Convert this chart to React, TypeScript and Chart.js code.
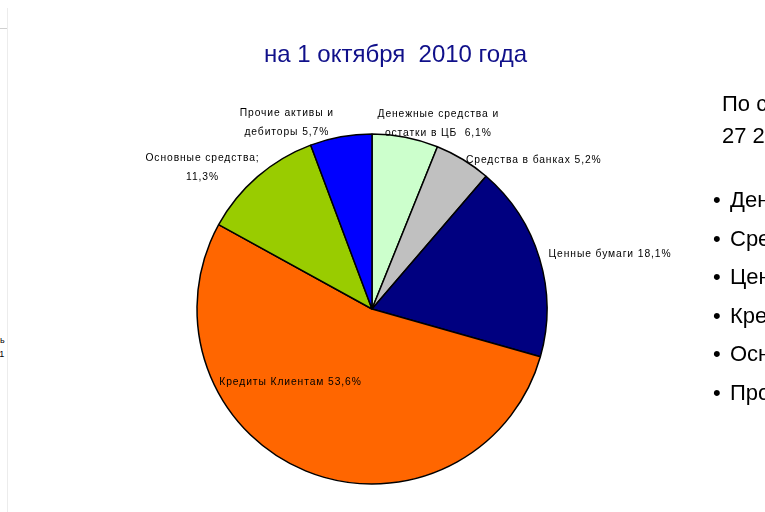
import React, { useEffect, useRef } from "react";
import { Chart, registerables } from "chart.js";

Chart.register(...registerables);

const categories = [
  "Денежные средства и остатки в ЦБ",
  "Средства в банках",
  "Ценные бумаги",
  "Кредиты Клиентам",
  "Основные средства",
  "Прочие активы и дебиторы",
];
const shares = [6.1, 5.2, 18.1, 53.6, 11.3, 5.7];
const labelLines = [
  ["Денежные средства и", "остатки в ЦБ  6,1%"],
  ["Средства в банках 5,2%"],
  ["Ценные бумаги 18,1%"],
  ["Кредиты Клиентам 53,6%"],
  ["Основные средства;", "11,3%"],
  ["Прочие активы и", "дебиторы 5,7%"],
];
const sliceColors = ["#CCFFCC", "#C0C0C0", "#000080", "#FF6600", "#99CC00", "#0000FF"];
const title = "на 1 октября  2010 года";
const sideHeader = ["По состоянию на", "27 2010 года"];
const sideBullets = [
  "Денежные средства",
  "Средства в банках",
  "Ценные бумаги",
  "Кредиты клиентам",
  "Основные средства",
  "Прочие активы",
];

// label layout: offset from the slice's outer mid-point, and alignment
const labelLayout = [
  { dx: 33, dy: -23, align: "center" },
  { dx: 3, dy: 1, align: "left" },
  { dx: 9, dy: -4, align: "left" },
  { dx: -15, dy: -89, align: "center" },
  { dx: -55, dy: -18, align: "center" },
  { dx: -54, dy: -24, align: "center" },
];

const labelPlugin = {
  id: "sliceLabels",
  afterDatasetsDraw(chart: any) {
    const ctx = chart.ctx;
    const meta = chart.getDatasetMeta(0);
    ctx.save();
    ctx.font = "10.3px 'Liberation Sans', Arial, sans-serif";
    (ctx as any).letterSpacing = "0.9px";
    ctx.fillStyle = "#000";
    ctx.textBaseline = "middle";
    meta.data.forEach((arc: any, i: number) => {
      const p = arc.getProps(["x", "y", "startAngle", "endAngle", "outerRadius"], true);
      const mid = (p.startAngle + p.endAngle) / 2;
      const ax = p.x + Math.cos(mid) * p.outerRadius;
      const ay = p.y + Math.sin(mid) * p.outerRadius;
      const lay = labelLayout[i];
      ctx.textAlign = lay.align;
      labelLines[i].forEach((line, j) => {
        ctx.fillText(line, ax + lay.dx, ay + lay.dy + j * 19);
      });
    });
    ctx.restore();
  },
};

export default function App() {
  const ref = useRef<HTMLCanvasElement>(null);
  useEffect(() => {
    if (!ref.current) return;
    const chart = new Chart(ref.current, {
      type: "pie",
      data: {
        labels: categories,
        datasets: [
          {
            data: shares,
            backgroundColor: sliceColors,
            borderColor: "#000000",
            borderWidth: 1.5,
            borderAlign: "center",
          } as any,
        ],
      },
      options: {
        responsive: false,
        animation: false,
        radius: 175,
        layout: { padding: { left: 197, right: 218, top: 134, bottom: 28 } },
        plugins: {
          legend: { display: false },
          tooltip: { enabled: false },
          title: { display: false },
        },
      } as any,
      plugins: [labelPlugin],
    });
    return () => chart.destroy();
  }, []);

  const font = "'Liberation Sans', Arial, sans-serif";
  return (
    <div
      style={{
        position: "fixed",
        left: 0,
        top: 0,
        width: 765,
        height: 512,
        overflow: "hidden",
        background: "#fff",
        fontFamily: font,
      }}
    >
      <div style={{ position: "absolute", left: 7, top: 8, width: 1, height: 504, background: "#ececec" }} />
      <div style={{ position: "absolute", left: 0, top: 28, width: 7, height: 1, background: "#d0d0d0" }} />
      <div style={{ position: "absolute", left: -5, top: 333, fontSize: 9, lineHeight: "14px", color: "#000" }}>
        нь
        <br />
        11
      </div>
      <canvas ref={ref} width={765} height={512} style={{ position: "absolute", left: 0, top: 0 }} />
      <div
        style={{
          position: "absolute",
          left: 264,
          top: 40,
          fontSize: 24,
          color: "#10108a",
          whiteSpace: "pre",
          lineHeight: "28px",
        }}
      >
        {title}
      </div>
      <div style={{ position: "absolute", left: 722, top: 88, fontSize: 22, lineHeight: "32px", whiteSpace: "nowrap", color: "#000" }}>
        {sideHeader.map((t, i) => (
          <div key={i}>{t}</div>
        ))}
      </div>
      <div style={{ position: "absolute", left: 713, top: 184, fontSize: 22, whiteSpace: "nowrap", color: "#000" }}>
        {sideBullets.map((t, i) => (
          <div key={i} style={{ height: 38.5, lineHeight: "32px" }}>
            <span style={{ display: "inline-block", width: 17 }}>•</span>
            {t}
          </div>
        ))}
      </div>
    </div>
  );
}
